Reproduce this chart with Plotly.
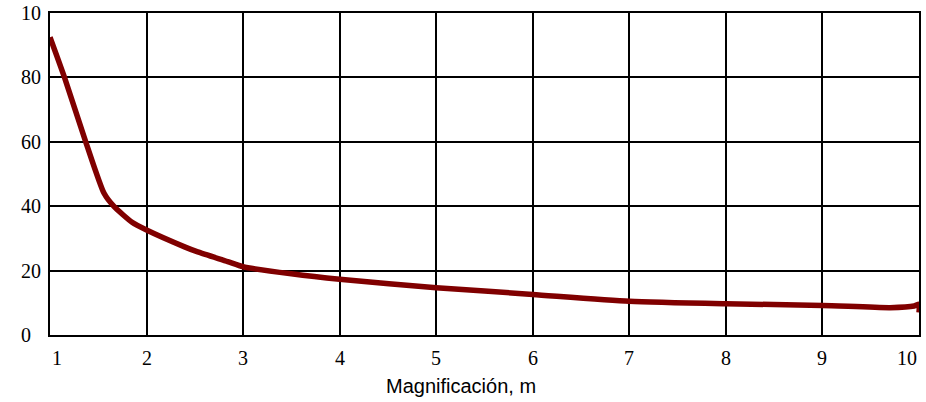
import plotly.graph_objects as go

# Data
magnification = [1.0, 1.15, 1.37, 1.56, 1.66, 1.85, 2.0, 2.4, 2.53, 2.84, 3.0, 3.5, 4.0, 5.0,
                 6.0, 7.0, 8.0, 9.0, 9.7, 9.95, 10.0, 10.0]
values = [92.5, 80, 60, 44, 40, 35, 32.6, 27.3, 25.8, 22.8, 21.2, 19.0, 17.3, 14.7,
          12.6, 10.5, 9.7, 9.2, 8.5, 9.0, 9.6, 7.0]

x_ticks = [1, 2, 3, 4, 5, 6, 7, 8, 9, 10]
x_labels = ["1", "2", "3", "4", "5", "6", "7", "8", "9", "10"]
y_ticks = [0, 20, 40, 60, 80, 100]
y_labels = ["0", "20", "40", "60", "80", "10"]
x_title = "Magnificación, m"

W, H = 926, 402
L, R, T, B = 50, 5, 13, 67
pw, ph = W - L - R, H - T - B

fig = go.Figure()
fig.add_trace(go.Scatter(
    x=magnification, y=values, mode="lines",
    line=dict(color="#800000", width=5.5, shape="spline", smoothing=0.6),
    showlegend=False, hoverinfo="skip",
))

serif = "Times New Roman, Liberation Serif, serif"
sans = "Arial, Liberation Sans, sans-serif"

annotations = []
for v, t in zip(y_ticks, y_labels):
    annotations.append(dict(
        text=t, xref="paper", yref="y", x=-31 / pw, y=v,
        xanchor="left", yanchor="middle", showarrow=False,
        font=dict(family=serif, size=20, color="black"),
    ))
for i, (v, t) in enumerate(zip(x_ticks, x_labels)):
    anchor = "left" if i == 0 else ("right" if i == len(x_ticks) - 1 else "center")
    annotations.append(dict(
        text=t, xref="x", yref="paper", x=v, y=-(358 - (T + ph)) / ph,
        xanchor=anchor, yanchor="middle", showarrow=False,
        font=dict(family=serif, size=20, color="black"),
    ))
annotations.append(dict(
    text=x_title, xref="paper", yref="paper",
    x=(462 - L) / pw, y=-(386 - (T + ph)) / ph,
    xanchor="center", yanchor="middle", showarrow=False,
    font=dict(family=sans, size=20, color="black"),
))

fig.update_layout(
    width=W, height=H,
    margin=dict(l=L, r=R, t=T, b=B, pad=0),
    paper_bgcolor="white", plot_bgcolor="white",
    font=dict(family=serif),
    annotations=annotations,
    xaxis=dict(
        range=[1, 10], tickmode="array", tickvals=x_ticks,
        showgrid=True, gridcolor="black", gridwidth=2,
        showline=True, linecolor="black", linewidth=2, mirror=True,
        zeroline=False, ticks="", showticklabels=False,
    ),
    yaxis=dict(
        range=[0, 100], tickmode="array", tickvals=y_ticks,
        showgrid=True, gridcolor="black", gridwidth=2,
        showline=True, linecolor="black", linewidth=2, mirror=True,
        zeroline=False, ticks="", showticklabels=False,
    ),
)

fig.write_html("out.html")
